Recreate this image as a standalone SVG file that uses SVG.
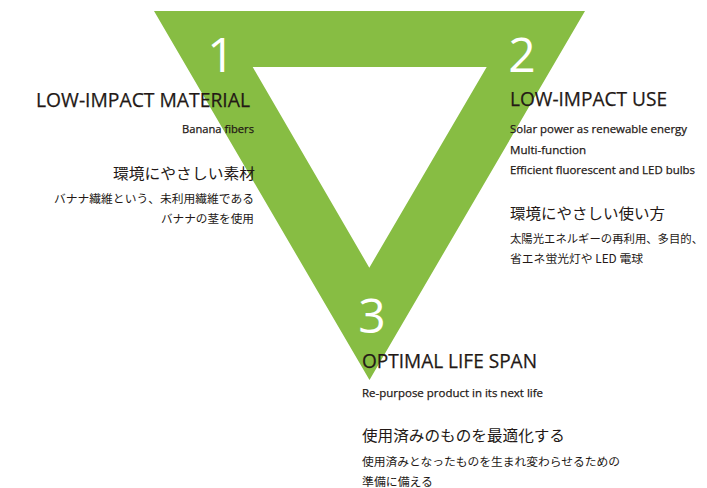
<svg xmlns="http://www.w3.org/2000/svg" width="707" height="488" viewBox="0 0 707 488">
<style>
.en{font-family:"Open Sans","Noto Sans","Liberation Sans",sans-serif;fill:#231815;stroke:#231815;stroke-width:0.25}
.jp{font-family:"Noto Sans CJK JP","Noto Sans",sans-serif;fill:#231815}
.h{font-size:19.5px}
.s{font-size:11.5px}
.jh{font-size:15px}
.js{font-size:11.5px}
.num{font-family:"Open Sans","Noto Sans","Liberation Sans",sans-serif;font-size:48px;fill:#ffffff;text-anchor:middle}
.r{text-anchor:end}
</style>
<rect width="707" height="488" fill="#ffffff"/>
<g id="triangle">
<path d="M154,11 L585,11 L369.5,380 Z M252.7,67 L486.7,67 L369.3,267.7 Z" fill="#87bd43" fill-rule="evenodd"/>
</g>
<g id="numbers">
<text class="num" x="221" y="72">1</text>
<text class="num" x="522" y="72">2</text>
<text class="num" x="372" y="333">3</text>
</g>
<g id="node1">
<text class="en h r" x="250" y="107" textLength="214" lengthAdjust="spacingAndGlyphs">LOW-IMPACT MATERIAL</text>
<text class="en s r" x="254" y="133" textLength="72" lengthAdjust="spacingAndGlyphs">Banana fibers</text>
<text class="jp jh r" x="255" y="179" textLength="142" lengthAdjust="spacingAndGlyphs">環境にやさしい素材</text>
<text class="jp js r" x="254" y="203" textLength="200" lengthAdjust="spacingAndGlyphs">バナナ繊維という、未利用繊維である</text>
<text class="jp js r" x="254" y="223" textLength="93" lengthAdjust="spacingAndGlyphs">バナナの茎を使用</text>
</g>
<g id="node2">
<text class="en h" x="510" y="106" textLength="157" lengthAdjust="spacingAndGlyphs">LOW-IMPACT USE</text>
<text class="en s" x="510" y="133" textLength="177" lengthAdjust="spacingAndGlyphs">Solar power as renewable energy</text>
<text class="en s" x="510" y="154" textLength="76" lengthAdjust="spacingAndGlyphs">Multi-function</text>
<text class="en s" x="510" y="174" textLength="185" lengthAdjust="spacingAndGlyphs">Efficient fluorescent and LED bulbs</text>
<text class="jp jh" x="510" y="219" textLength="155" lengthAdjust="spacingAndGlyphs">環境にやさしい使い方</text>
<text class="jp js" x="510" y="243" textLength="193" lengthAdjust="spacingAndGlyphs">太陽光エネルギーの再利用、多目的、</text>
<text class="jp js" x="510" y="263" textLength="133" lengthAdjust="spacingAndGlyphs">省エネ蛍光灯や LED 電球</text>
</g>
<g id="node3">
<text class="en h" x="362" y="368" textLength="175" lengthAdjust="spacingAndGlyphs">OPTIMAL LIFE SPAN</text>
<text class="en s" x="362" y="397" textLength="181" lengthAdjust="spacingAndGlyphs">Re-purpose product in its next life</text>
<text class="jp jh" x="362" y="441" textLength="203" lengthAdjust="spacingAndGlyphs">使用済みのものを最適化する</text>
<text class="jp js" x="362" y="466" textLength="258" lengthAdjust="spacingAndGlyphs">使用済みとなったものを生まれ変わらせるための</text>
<text class="jp js" x="362" y="486" textLength="71" lengthAdjust="spacingAndGlyphs">準備に備える</text>
</g>
<g id="connectors"></g>
</svg>
